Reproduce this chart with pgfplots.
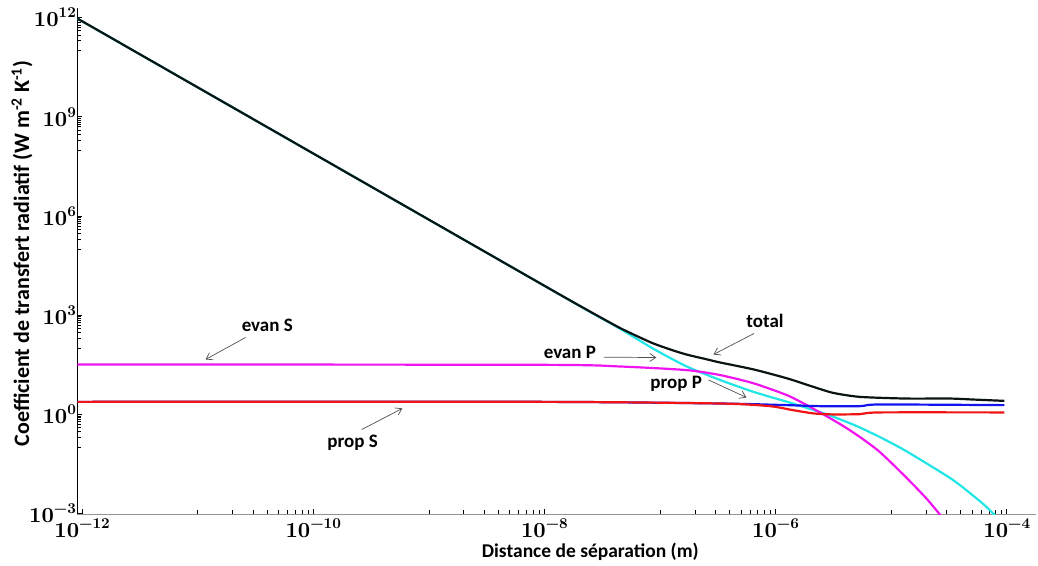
\documentclass[border=0pt]{standalone}
\usepackage{fontspec}
\setmainfont{Carlito}
\newfontfamily\tickfont{lmroman10-bold}[Extension=.otf]
\usepackage{pgfplots}
\pgfplotsset{compat=1.18}
\usetikzlibrary{arrows.meta}

\definecolor{ctotal}{HTML}{0A1414}
\definecolor{cevanp}{HTML}{22E6E6}
\definecolor{cevans}{HTML}{F014F0}
\definecolor{cpropp}{HTML}{1414EE}
\definecolor{cprops}{HTML}{F01414}
\definecolor{carrow}{HTML}{505050}

% power-of-ten tick label, bold serif
\newcommand{\tl}[1]{{\tickfont\fontsize{21.5}{24}\selectfont 10\raisebox{0.42em}{\fontsize{15}{17}\selectfont #1}}}

\begin{document}
\begin{tikzpicture}
\begin{axis}[
  at={(77.5pt,50.7pt)}, anchor=south west,
  scale only axis, width=958.5pt, height=506.3pt,
  xmode=log, ymode=log,
  xmin=9.12e-13, xmax=1.79e-4,
  ymin=9.55e-4, ymax=1.95e12,
  axis x line*=bottom, axis y line*=left,
  x axis line style={-, draw=gray!85, line width=1.6pt},
  y axis line style={-, draw=black, line width=0.8pt},
  xtick={1e-12,1e-10,1e-8,1e-6,1e-4},
  xticklabels={\tl{−12},\tl{−10},\tl{−8},\tl{−6},\tl{−4}},
  minor xtick={1e-11,2e-11,3e-11,4e-11,5e-11,6e-11,7e-11,8e-11,9e-11,
               1e-9,2e-9,3e-9,4e-9,5e-9,6e-9,7e-9,8e-9,9e-9,
               1e-7,2e-7,3e-7,4e-7,5e-7,6e-7,7e-7,8e-7,9e-7,
               1e-5,2e-5,3e-5,4e-5,5e-5,6e-5,7e-5,8e-5,9e-5},
  ytick={1e-3,1,1e3,1e6,1e9,1e12},
  yticklabels={\tl{−3},\tl{0},\tl{3},\tl{6},\tl{9},\tl{12}},
  minor ytick={1e-1,2e-1,3e-1,4e-1,5e-1,6e-1,7e-1,8e-1,9e-1,
               1e2,2e2,3e2,4e2,5e2,6e2,7e2,8e2,9e2,
               1e5,2e5,3e5,4e5,5e5,6e5,7e5,8e5,9e5,
               1e8,2e8,3e8,4e8,5e8,6e8,7e8,8e8,9e8,
               1e11,2e11,3e11,4e11,5e11,6e11,7e11,8e11,9e11},
  tick align=inside,
  major tick length=5pt, minor tick length=4pt,
  tick style={black, line width=0.6pt},
  yticklabel style={xshift=2pt},
  xticklabel style={yshift=-1pt},
  xlabel={Distance de séparation (m)},
  ylabel={Coefficient de transfert radiatif (W m\textsuperscript{-2} K\textsuperscript{-1})},
  every axis x label/.style={at={(axis description cs:0.535,-0.074)}, anchor=center,
    font=\fontsize{19.5}{22}\selectfont\bfseries},
  every axis y label/.style={at={(axis description cs:-0.058,0.515)}, rotate=90, anchor=center,
    font=\fontsize{22}{25}\selectfont\bfseries},
  every axis plot/.append style={line width=2.2pt, no markers, smooth, tension=0.4},
]
% evan P
\addplot[cevanp] coordinates {
  (9.12e-13,9.33e11) (1e-10,7.76e7) (1e-8,7.76e3) (2.51e-8,1.23e3)
  (4.47e-8,398) (8.71e-8,97.7) (1.70e-7,28.2) (3.31e-7,11.0)
  (6.46e-7,4.79) (1.26e-6,2.40) (2.14e-6,1.35) (3.16e-6,0.851)
  (5.01e-6,0.447) (7.94e-6,0.209) (1.26e-5,0.0891) (2.0e-5,0.0339)
  (3.16e-5,0.0126) (3.98e-5,7.08e-3) (5.01e-5,3.72e-3) (6.31e-5,1.91e-3)
  (7.76e-5,9.55e-4) (8.91e-5,6.03e-4)
};
% evan S
\addplot[cevans] coordinates {
  (9.12e-13,32.4) (1e-8,31.6) (4.47e-8,28.2) (1.70e-7,21.9)
  (3.31e-7,15.5) (6.46e-7,8.71) (1.26e-6,3.80) (1.86e-6,1.91)
  (2.75e-6,0.891) (3.89e-6,0.437) (5.50e-6,0.195) (7.76e-6,0.0794)
  (1.10e-5,0.0251) (1.55e-5,7.59e-3) (2.04e-5,2.75e-3) (2.57e-5,1.05e-3)
  (2.95e-5,5.62e-4)
};
% prop P
\addplot[cpropp] coordinates {
  (9.12e-13,2.40) (1e-8,2.40) (3.31e-7,2.14) (1.26e-6,1.91)
  (2.40e-6,1.78) (5.37e-6,1.78) (7.94e-6,2.0) (9.55e-5,1.91)
};
% prop S
\addplot[cprops] coordinates {
  (9.12e-13,2.40) (1e-8,2.40) (3.31e-7,2.14) (8.91e-7,1.78)
  (1.41e-6,1.35) (2.14e-6,1.07) (3.16e-6,1.0) (5.37e-6,1.02)
  (7.94e-6,1.15) (9.55e-5,1.15)
};
% total
\addplot[ctotal] coordinates {
  (9.12e-13,9.33e11) (1e-10,7.76e7) (1e-8,7.76e3) (2.51e-8,1.26e3)
  (4.47e-8,417) (6.31e-8,234) (8.71e-8,141) (1.26e-7,89.1)
  (1.70e-7,64.6) (2.51e-7,46.8) (3.31e-7,37.2) (6.46e-7,22.9)
  (1.26e-6,12.3) (2.14e-6,6.76) (3.16e-6,4.47) (5.37e-6,3.39)
  (1.35e-5,3.02) (3.24e-5,3.02) (5.13e-5,2.82) (9.55e-5,2.57)
};

\tikzset{ann/.style={font=\fontsize{19}{22}\selectfont\bfseries, inner sep=0pt},
         arr/.style={-{Straight Barb[length=6pt,width=8pt]}, draw=carrow, line width=0.7pt}}
\node[ann] at (axis cs:4.0e-11,500) {evan S};
\draw[arr] (axis cs:2.6e-11,213) -- (axis cs:1.17e-11,46);
\node[ann] at (axis cs:2.19e-10,0.135) {prop S};
\draw[arr] (axis cs:2.63e-10,0.35) -- (axis cs:5.9e-10,1.52);
\node[ann] at (axis cs:1.66e-8,76) {evan P};
\draw[arr] (axis cs:3.24e-8,54) -- (axis cs:9.3e-8,52.5);
\node[ann] at (axis cs:1.38e-7,8.7) {prop P};
\draw[arr] (axis cs:2.63e-7,11) -- (axis cs:5.6e-7,3.26);
\node[ann] at (axis cs:8.1e-7,676) {total};
\draw[arr] (axis cs:6.5e-7,280) -- (axis cs:2.9e-7,65);
\end{axis}
\pgfresetboundingbox
\path[use as bounding box] (0,0) rectangle (1038pt,565pt);
\end{tikzpicture}
\end{document}
